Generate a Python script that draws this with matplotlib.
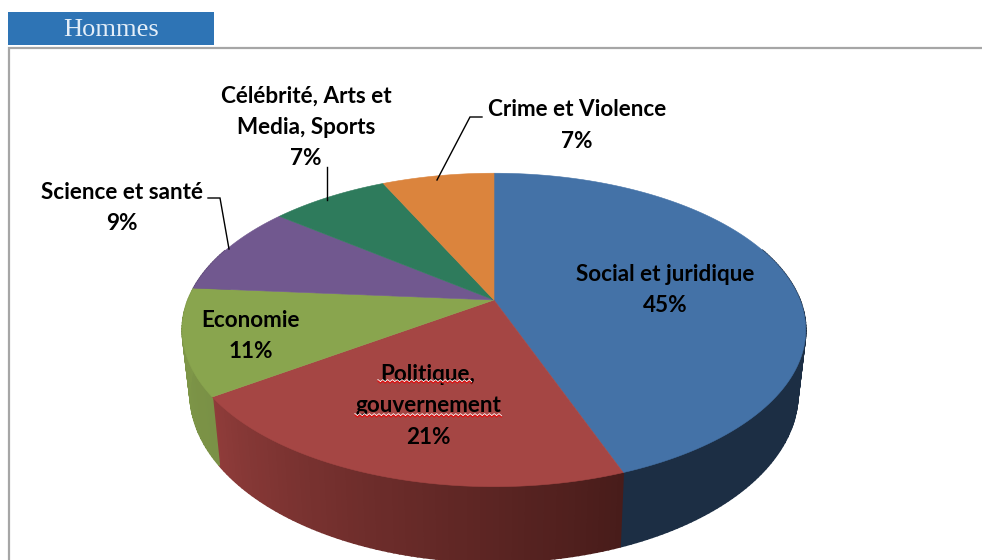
import numpy as np
import matplotlib
matplotlib.use("Agg")
import matplotlib.pyplot as plt
from matplotlib.patches import Polygon, Rectangle

# ---- data ----
categories = ["Social et juridique", "Politique,\ngouvernement", "Economie",
              "Science et santé", "Célébrité, Arts et\nMedia, Sports", "Crime et Violence"]
values = [44.5, 21.0, 11.0, 9.4, 7.4, 7.0]
shown_percent = [45, 21, 11, 9, 7, 7]
top_colors = ["#4472A7", "#A54644", "#89A54E", "#71588F", "#2E7B5C", "#DB843D"]
side_left = ["#1C2E44", "#8F3C3A", "#7F9848", "#5A4672", "#246049", "#B06A30"]
side_right = ["#1C2E44", "#481C1A", "#7A9146", "#5A4672", "#246049", "#B06A30"]
title = "Hommes"

# ---- 3D projection of the pie ----
CX, CY = 494.0, 300.0
A, B, K = 306.0, 151.0, 0.191
DEPTH, SHRINK = 61.0, 0.975


def project(theta, lower=False):
    u, v = np.sin(theta), np.cos(theta)
    w = 1 + K * v
    if lower:
        return CX + A * SHRINK * u / w, CY + (-B * v + DEPTH) / w
    return CX + A * u / w, CY - B * v / w


def rgb(h):
    return np.array(matplotlib.colors.to_rgb(h))


fig = plt.figure(figsize=(9.82, 5.6), dpi=100)
ax = fig.add_axes([0, 0, 1, 1])
ax.set_xlim(0, 982)
ax.set_ylim(560, 0)
ax.axis("off")

# header + frame
ax.add_patch(Rectangle((8, 12), 206, 33, fc="#2E74B5", ec="none"))
ax.text(111, 30, title, color="#E4EEF8", family="Liberation Serif", fontsize=19,
        ha="center", va="center")
ax.plot([9, 9, 982], [560, 47.5, 47.5], color="#A6A6A6", lw=1.6, solid_joinstyle="miter")

fractions = np.array(values, float) / sum(values)
edges = np.concatenate([[0], np.cumsum(fractions)]) * 2 * np.pi

# sides
for i in range(len(values)):
    ts = np.linspace(edges[i], edges[i + 1], max(int((edges[i + 1] - edges[i]) * 60), 2))
    t0, t1 = ts[0], ts[-1]
    c_l, c_r = rgb(side_left[i]), rgb(side_right[i])
    for a, b in zip(ts[:-1], ts[1:]):
        if np.cos((a + b) / 2) > 0.35:
            continue
        mid = (a + b) / 2
        f = (mid - t0) / (t1 - t0)  # 0 at the right end of the slice, 1 at the left end
        col = c_r * (1 - f) + c_l * f
        xa, ya = project(a)
        xb, yb = project(b)
        xc, yc = project(b, True)
        xd, yd = project(a, True)
        ax.add_patch(Polygon([(xa, ya), (xb, yb), (xc, yc), (xd, yd)], closed=True,
                             fc=col, ec=col, lw=1.2, zorder=2))

# top faces
for i in range(len(values)):
    ts = np.linspace(edges[i], edges[i + 1], 120)
    xs, ys = project(ts)
    pts = [(CX, CY)] + list(zip(xs, ys))
    ax.add_patch(Polygon(pts, closed=True, fc=top_colors[i], ec=top_colors[i], lw=0.4, zorder=3))

# labels
label_pos = [(665, 290), (428, 406), (251, 336), (122, 208), (306, 127), (577, 125.5)]
FS = 16.2
for name, val, (x, y) in zip(categories, shown_percent, label_pos):
    ax.text(x, y, f"{name}\n{val}%", ha="center", va="center", family="Lato",
            fontweight="bold", fontsize=FS, linespacing=1.6, color="black", zorder=6)

# leader lines
leaders = [([482, 470, 437], [117, 117, 180]),
           ([327, 327], [167, 200]),
           ([208, 220, 229], [198, 198, 249])]
for lx, ly in leaders:
    ax.plot(lx, ly, color="black", lw=1.0, zorder=5, solid_joinstyle="miter")

# spell-check squiggles
for x0, x1, y in [(378, 472, 382), (355, 502, 416)]:
    xs = np.arange(x0, x1 + 1, 2.4)
    ys = y + np.where(np.arange(len(xs)) % 2 == 0, -1.0, 1.0)
    ax.plot(xs, ys - 1.2, color="white", lw=0.8, zorder=7)
    ax.plot(xs, ys, color="#E01010", lw=0.9, zorder=7)

fig.savefig("out.png", dpi=100)
